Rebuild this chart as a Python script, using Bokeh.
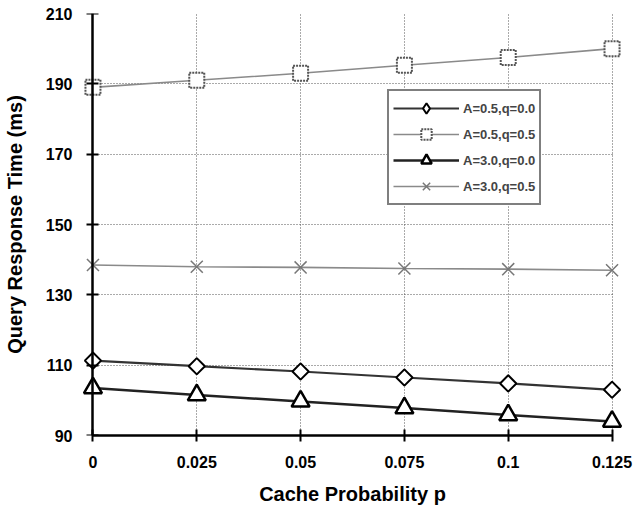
import math
from bokeh.plotting import figure
from bokeh.models import Range1d, FixedTicker, Legend, LegendItem, LinearAxis
from bokeh.embed import file_html
from bokeh.resources import INLINE

p_vals = [0, 0.025, 0.05, 0.075, 0.1, 0.125]
p_labels = ["0", "0.025", "0.05", "0.075", "0.1", "0.125"]
y_ticks = [90, 110, 130, 150, 170, 190, 210]

a05_q00 = [111.3, 109.7, 108.2, 106.5, 104.8, 103.0]
a05_q05 = [189.0, 191.0, 193.0, 195.3, 197.5, 200.0]
a30_q00 = [103.5, 101.5, 99.7, 97.8, 95.8, 94.0]
a30_q05 = [138.5, 138.0, 137.8, 137.5, 137.3, 137.0]

FONT = "Liberation Sans"

p = figure(width=638, height=514, output_backend="svg", toolbar_location=None,
           x_range=Range1d(-0.003, 0.128), y_range=Range1d(90, 210),
           min_border_left=80, min_border_right=14, min_border_top=13, min_border_bottom=79)
p.outline_line_color = None

def style(ax):
    ax.axis_line_width = 2.5
    ax.axis_line_color = "black"
    ax.major_tick_line_width = 2
    ax.major_tick_line_color = "black"
    ax.major_tick_in = 6
    ax.major_tick_out = 6
    ax.minor_tick_line_color = None
    ax.major_label_text_font = FONT
    ax.major_label_text_font_style = "bold"
    ax.major_label_text_font_size = "16px"
    ax.major_label_text_color = "black"
    ax.axis_label_text_font = FONT
    ax.axis_label_text_font_style = "bold"
    ax.axis_label_text_font_size = "20px"
    ax.axis_label_text_color = "black"

style(p.xaxis[0])
style(p.yaxis[0])

p.xaxis.ticker = FixedTicker(ticks=p_vals)
p.xaxis.bounds = (0, 0.125)
p.xaxis.major_label_overrides = {v: l for v, l in zip(p_vals, p_labels)}
p.xaxis.axis_label = "Cache Probability p"
p.xaxis.major_label_standoff = 14
p.xaxis.axis_label_standoff = 12

# axis line and ticks drawn at p = 0
p.yaxis.ticker = FixedTicker(ticks=y_ticks)
p.yaxis.fixed_location = 0
p.yaxis.major_label_text_color = None
p.yaxis.major_label_text_alpha = 0

# labels-only axis
lab_ax = LinearAxis(ticker=FixedTicker(ticks=y_ticks), axis_label="Query Response Time (ms)")
style(lab_ax)
lab_ax.axis_line_color = None
lab_ax.major_tick_line_color = None
lab_ax.major_tick_in = 0
lab_ax.major_tick_out = 0
lab_ax.major_label_standoff = 8
lab_ax.axis_label_standoff = 17
p.add_layout(lab_ax, "left")

for g in (p.xgrid[0], p.ygrid[0]):
    g.grid_line_color = "#555555"
    g.grid_line_dash = "1 2"
    g.grid_line_width = 1
p.xgrid.bounds = (0, 0.125)
p.ygrid.cross_bounds = (0, 0.125)

items = []
l1 = p.line(p_vals, a05_q00, line_color="#333333", line_width=2.2)
# diamond glyph (used for the legend swatch); covered by the rotated squares below
d1 = p.scatter(p_vals, a05_q00, marker="diamond", size=15, fill_color="white",
               line_color="black", line_width=2)
m1 = p.scatter(p_vals, a05_q00, marker="square", angle=math.pi / 4, size=11.5,
               fill_color="white", line_color="black", line_width=2)
items.append(LegendItem(label="A=0.5,q=0.0", renderers=[l1, d1]))

l2 = p.line(p_vals, a05_q05, line_color="#8a8a8a", line_width=1.6)
m2 = p.scatter(p_vals, a05_q05, marker="square", size=15, fill_color="white",
               line_color="#555555", line_width=2, line_dash="2 1")
items.append(LegendItem(label="A=0.5,q=0.5", renderers=[l2, m2]))

l3 = p.line(p_vals, a30_q00, line_color="#222222", line_width=2.5)
m3 = p.scatter(p_vals, a30_q00, marker="triangle", size=18, fill_color="white",
               line_color="black", line_width=2.5)
items.append(LegendItem(label="A=3.0,q=0.0", renderers=[l3, m3]))

l4 = p.line(p_vals, a30_q05, line_color="#8a8a8a", line_width=1.6)
m4 = p.scatter(p_vals, a30_q05, marker="x", size=17, line_color="#777777", line_width=1.5)
items.append(LegendItem(label="A=3.0,q=0.5", renderers=[l4, m4]))

legend = Legend(items=items, location=(307, 230))
legend.border_line_color = "black"
legend.border_line_width = 2.5
legend.background_fill_color = "white"
legend.background_fill_alpha = 1
legend.label_text_font = FONT
legend.label_text_font_style = "bold"
legend.label_text_font_size = "13px"
legend.glyph_width = 66
legend.glyph_height = 26
legend.label_height = 26
legend.spacing = 0
legend.padding = 4
legend.margin = 0
legend.label_standoff = 4
p.add_layout(legend, "center")

open("out.html", "w").write(file_html(p, INLINE))
